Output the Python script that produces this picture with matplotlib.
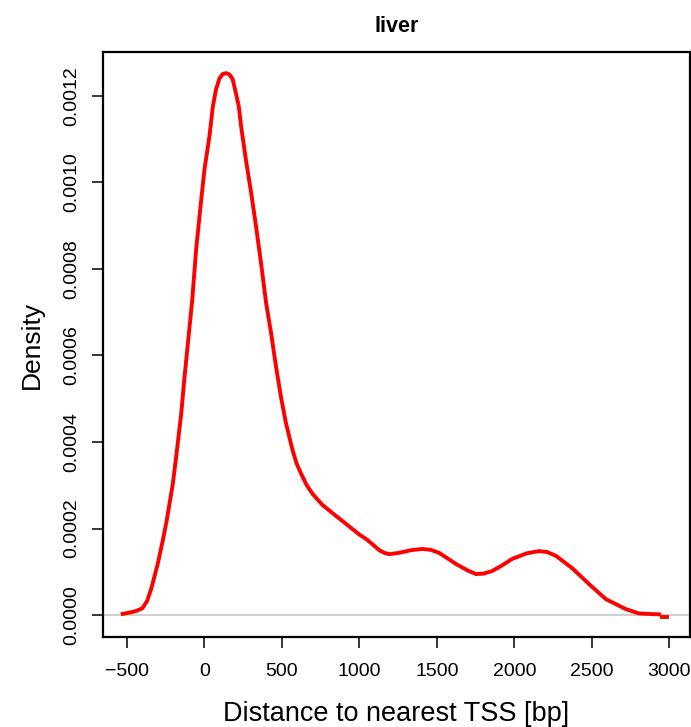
import numpy as np
import matplotlib
matplotlib.use("Agg")
import matplotlib.pyplot as plt
from matplotlib.ticker import FormatStrFormatter

plt.rcParams["font.family"] = ["Liberation Sans", "DejaVu Sans"]

# density curve (x in bp, y in units of 1e-4)
dist_bp = [-528, -470, -440, -400, -370, -342, -302, -270, -243, -204, -178,
           -150, -129, -107, -79, -54, -28, 0, 32, 54, 75, 97, 118, 140, 161,
           182, 200, 221, 236, 268, 301, 333, 365, 398, 430, 462, 494, 526,
           569, 595, 623, 660, 698, 760, 825, 913, 1000, 1043, 1090, 1128,
           1160, 1192, 1256, 1330, 1405, 1460, 1514, 1624, 1700, 1752, 1800,
           1856, 1920, 1985, 2080, 2158, 2210, 2268, 2371, 2481, 2590, 2719,
           2803, 2932]
dens_e4 = [0.03, 0.07, 0.1, 0.16, 0.33, 0.63, 1.18, 1.71, 2.2, 3.04, 3.8,
           4.66, 5.49, 6.28, 7.28, 8.44, 9.36, 10.3, 11.06, 11.75, 12.15,
           12.4, 12.5, 12.52, 12.49, 12.38, 12.1, 11.76, 11.3, 10.5, 9.76,
           8.97, 8.13, 7.2, 6.51, 5.73, 5.03, 4.43, 3.8, 3.5, 3.27, 3.0, 2.8,
           2.55, 2.36, 2.11, 1.86, 1.76, 1.62, 1.5, 1.44, 1.41, 1.44, 1.5,
           1.53, 1.51, 1.44, 1.18, 1.03, 0.95, 0.96, 1.02, 1.15, 1.3, 1.43,
           1.48, 1.46, 1.37, 1.09, 0.72, 0.37, 0.14, 0.04, 0.02]
# little dash at the very end, just under zero
tail_bp = [2950, 2985]
tail_e4 = [-0.04, -0.04]

x_ticks = [-500, 0, 500, 1000, 1500, 2000, 2500, 3000]
y_ticks = [0.0, 0.0002, 0.0004, 0.0006, 0.0008, 0.0010, 0.0012]

dens = np.array(dens_e4) * 1e-4
tail = np.array(tail_e4) * 1e-4

fig = plt.figure(figsize=(6.91, 7.27), dpi=100)
ax = fig.add_axes([0.149, 0.124, 0.849, 0.804])

ax.axhline(0, color="#c8c8c8", lw=1.2, zorder=1)
ax.plot(dist_bp, dens, color="red", lw=2.8, zorder=2)
ax.plot(tail_bp, tail, color="red", lw=2.8, zorder=2)

ax.set_xlim(-655, 3130)
ax.set_ylim(-0.00005, 0.0013)
ax.set_xticks(x_ticks)
ax.set_yticks(y_ticks)
ax.yaxis.set_major_formatter(FormatStrFormatter("%.4f"))
ax.set_xticklabels(["\u2212500"] + [str(v) for v in x_ticks[1:]])

for s in ax.spines.values():
    s.set_linewidth(1.6)
ax.tick_params(axis="both", length=8, width=1.1, labelsize=14)
ax.tick_params(axis="x", pad=11)
ax.tick_params(axis="y", pad=8)
for lab in ax.get_yticklabels():
    lab.set_rotation(90)
    lab.set_va("center")

ax.set_xlabel("Distance to nearest TSS [bp]", fontsize=19.5, labelpad=15)
ax.set_ylabel("Density", fontsize=19, labelpad=14)
ax.set_title("liver", fontsize=15.5, fontweight="bold", pad=15)

fig.savefig("out.png", dpi=100)
